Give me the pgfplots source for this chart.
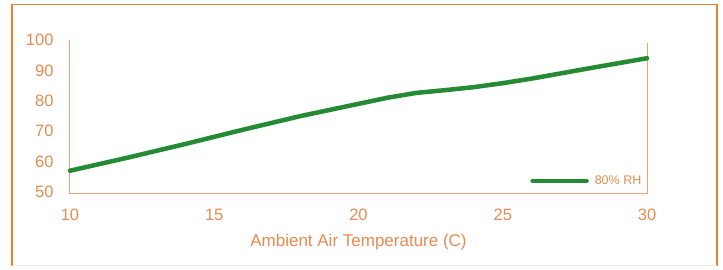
\documentclass[border=0pt]{standalone}
\usepackage{pgfplots}
\pgfplotsset{compat=1.18}
\usepackage{fontspec}
\setmainfont{Liberation Sans}
\definecolor{ortext}{RGB}{232,138,82}
\definecolor{orframe}{RGB}{230,132,45}
\definecolor{oraxis}{RGB}{238,160,120}
\definecolor{grline}{RGB}{36,138,52}
\begin{document}
\begin{tikzpicture}[x=1pt,y=1pt]
\useasboundingbox (0,0) rectangle (723,270);
\draw[orframe,line width=1.6pt] (12,265.5) -- (717,265.5) -- (717,4);
\draw[orframe,line width=1.6pt] (12,265.5) -- (12,4);
\draw[black!8,line width=1pt] (12,4) -- (717,4);
\begin{axis}[
  at={(70pt,78pt)}, anchor=origin,
  scale only axis, width=577pt, height=152pt,
  xmin=10, xmax=30, ymin=50, ymax=100,
  hide axis,
  clip=false,
  legend style={draw=none, fill=none, at={(rel axis cs:0.994,0.072)}, anchor=east,
    font=\fontsize{12.5}{14}\selectfont, text=ortext, inner sep=0pt},
  legend image code/.code={\draw[grline,line width=4.5pt] (0pt,0pt) -- (54pt,0pt);},
  legend cell align=left,
]
\draw[oraxis,line width=1pt] (rel axis cs:0,1) -- (rel axis cs:0,-0.01) -- (rel axis cs:1,-0.01) -- (rel axis cs:1,0.98);
\pgfplotsinvokeforeach{10,15,20,25,30}{\node[text=ortext,font=\fontsize{16.5}{19}\selectfont] at (axis cs:#1,50) [yshift=-23pt] {#1};}
\pgfplotsinvokeforeach{50,60,70,80,90,100}{\node[text=ortext,font=\fontsize{16.5}{19}\selectfont,anchor=east] at (axis cs:10,#1) [xshift=-13pt] {#1};}
\node[text=ortext,font=\fontsize{17}{20}\selectfont] at (axis cs:20,50) [yshift=-50pt] {Ambient Air Temperature (C)};
\addplot[grline, line width=4.5pt, line join=round, line cap=round] coordinates {
(10,57) (12,61.3) (14,65.8) (16,70.5) (18,75) (20,79) (21,81) (22,82.6) (23,83.5) (24,84.5) (25,85.8) (26,87.3) (28,90.7) (30,94)
};
\addlegendentry{\hspace{4pt}80\% RH}
\end{axis}
\end{tikzpicture}
\end{document}
